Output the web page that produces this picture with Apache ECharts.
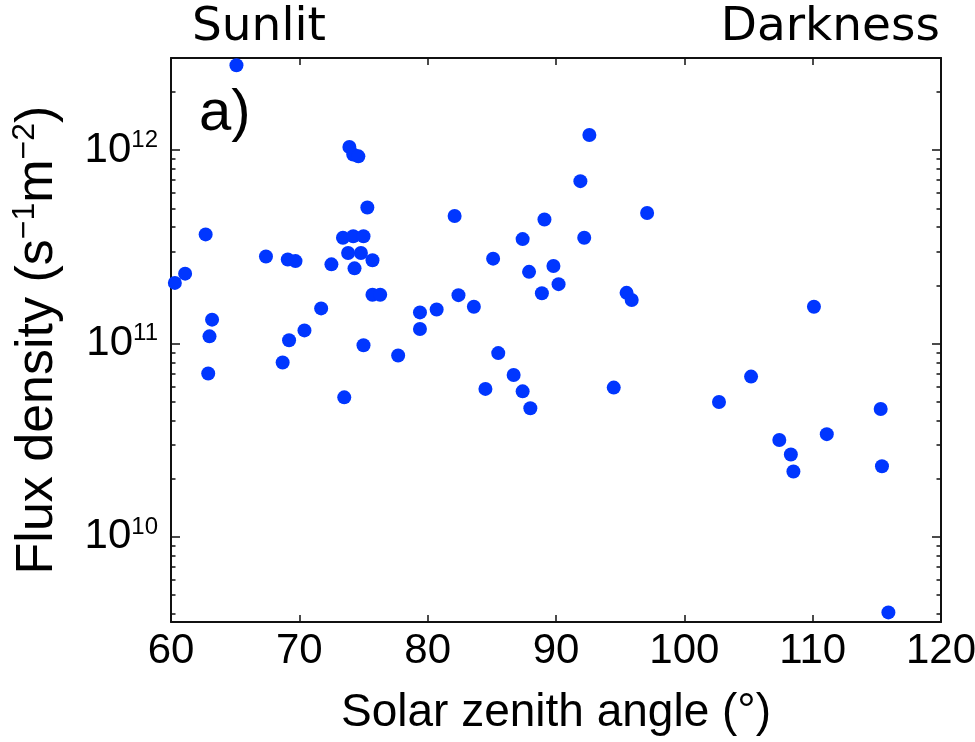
<!DOCTYPE html>
<html>
<head>
<meta charset="utf-8">
<title>Flux density vs solar zenith angle</title>
<script src="https://cdn.jsdelivr.net/npm/echarts@6/dist/echarts.min.js"></script>
<style>
  html, body { margin: 0; padding: 0; background: #fff; }
  #chart { width: 975px; height: 742px; }
</style>
</head>
<body>
<div id="chart"></div>
<script>
// Solar zenith angle (degrees) of each observation
const szaDeg = [
  60.3, 61.1, 62.7, 63.2, 63.0, 62.9, 65.1, 67.4, 69.1, 69.7,
  73.4, 74.2, 75.0, 73.8, 74.8, 75.7, 72.5, 74.3, 75.3, 73.9,
  74.2, 74.6, 82.1, 71.7, 70.4, 69.2, 68.7, 75.7, 76.3, 75.0,
  73.5, 77.7, 79.4, 79.4, 80.7, 82.4, 83.6, 85.1, 87.9, 89.8,
  90.2, 88.9, 95.5, 95.9, 85.5, 86.7, 84.5, 87.4, 88.0, 94.5,
  92.6, 91.9, 97.1, 89.1, 92.2, 87.4, 110.1, 105.2, 102.7, 115.3,
  111.1, 107.4, 108.3, 108.5, 115.4, 115.9
];

// Flux density (s^-1 m^-2), same order as szaDeg
const fluxDensity = [
  2.06e11, 2.30e11, 3.67e11, 1.33e11, 1.09e11, 7.0e10, 2.75e12, 2.82e11, 2.72e11, 2.67e11,
  3.53e11, 3.59e11, 3.59e11, 2.94e11, 2.94e11, 2.70e11, 2.57e11, 2.45e11, 5.06e11, 1.04e12,
  9.5e11, 9.3e11, 4.57e11, 1.52e11, 1.17e11, 1.04e11, 7.98e10, 1.79e11, 1.79e11, 9.8e10,
  5.27e10, 8.67e10, 1.45e11, 1.19e11, 1.50e11, 1.78e11, 1.55e11, 2.75e11, 2.35e11, 2.52e11,
  2.03e11, 1.82e11, 1.83e11, 1.68e11, 8.93e10, 6.88e10, 5.83e10, 5.66e10, 4.63e10, 5.92e10,
  1.20e12, 6.92e11, 4.74e11, 4.38e11, 3.53e11, 3.47e11, 1.55e11, 6.75e10, 4.99e10, 4.59e10,
  3.40e10, 3.17e10, 2.67e10, 2.18e10, 2.32e10, 4.07e9
];

// Axis ranges and ticks
const xMin = 60, xMax = 120, xStep = 10;
const yMin = 3.63e9, yMax = 3.0e12;
const yMajorTicks = [1e10, 1e11, 1e12];
const yMinorTicks = [
  4e9, 5e9, 6e9, 7e9, 8e9, 9e9,
  2e10, 3e10, 4e10, 5e10, 6e10, 7e10, 8e10, 9e10,
  2e11, 3e11, 4e11, 5e11, 6e11, 7e11, 8e11, 9e11,
  2e12
];

const points = szaDeg.map((x, i) => [x, fluxDensity[i]]);

const AXIS_COLOR = '#111';
const FONT = '"Liberation Sans", Arial, Helvetica, sans-serif';

function logAxis(position, ticks, tickLen, opts) {
  return Object.assign({
    type: 'log',
    logBase: 10,
    position: position,
    min: yMin,
    max: yMax,
    axisLine: { show: false, onZero: false },
    axisTick: { show: true, inside: true, length: tickLen, customValues: ticks,
                lineStyle: { color: AXIS_COLOR, width: 1.5 } },
    axisLabel: { show: false },
    splitLine: { show: false }
  }, opts || {});
}

const chart = echarts.init(document.getElementById('chart'), null, { renderer: 'canvas' });

chart.setOption({
  animation: false,
  backgroundColor: '#fff',
  // fixed plot rectangle; labels and names may sit close to the canvas edge
  grid: { left: 171, right: 34, top: 58, bottom: 120, containLabel: false, outerBoundsMode: 'none' },
  xAxis: [
    {
      type: 'value', position: 'bottom',
      min: xMin, max: xMax, interval: xStep,
      name: 'Solar zenith angle (°)',
      nameLocation: 'middle', nameGap: 68,
      nameTextStyle: { fontFamily: FONT, fontSize: 46, color: '#000' },
      axisLine: { show: true, onZero: false, lineStyle: { color: AXIS_COLOR, width: 2 } },
      axisTick: { show: true, inside: true, length: 7, lineStyle: { color: AXIS_COLOR, width: 1.5 } },
      axisLabel: { fontFamily: FONT, fontSize: 42, color: '#000', margin: 8 },
      splitLine: { show: false }
    },
    {
      type: 'value', position: 'top',
      min: xMin, max: xMax, interval: xStep,
      axisLine: { show: true, onZero: false, lineStyle: { color: AXIS_COLOR, width: 2 } },
      axisTick: { show: true, inside: true, length: 7, lineStyle: { color: AXIS_COLOR, width: 1.5 } },
      axisLabel: { show: false },
      splitLine: { show: false }
    }
  ],
  yAxis: [
    logAxis('left', yMajorTicks, 9, {
      name: 'Flux density (s{sup|−1}m{sup|−2})',
      nameLocation: 'middle', nameGap: 104, nameRotate: 90,
      nameTextStyle: {
        fontFamily: FONT, fontSize: 52, color: '#000', lineHeight: 58,
        rich: { sup: { fontFamily: FONT, fontSize: 32, color: '#000', verticalAlign: 'top', lineHeight: 28 } }
      },
      axisLine: { show: true, onZero: false, lineStyle: { color: AXIS_COLOR, width: 2 } },
      axisLabel: {
        show: true, customValues: yMajorTicks, margin: 13,
        formatter: v => '{b|10}{s|' + Math.round(Math.log10(v)) + '}',
        rich: {
          b: { fontFamily: FONT, fontSize: 42, color: '#000', lineHeight: 44 },
          s: { fontFamily: FONT, fontSize: 24, color: '#000', lineHeight: 22, verticalAlign: 'top' }
        }
      }
    }),
    logAxis('left', yMinorTicks, 4.5),
    logAxis('right', yMajorTicks, 9, {
      axisLine: { show: true, onZero: false, lineStyle: { color: AXIS_COLOR, width: 2 } }
    }),
    logAxis('right', yMinorTicks, 4.5)
  ],
  graphic: [
    { type: 'text', x: 192, y: 28, style: { text: 'Sunlit', font: '47px "DejaVu Sans", sans-serif', fill: '#000', align: 'left', verticalAlign: 'middle' } },
    { type: 'text', x: 940, y: 28, style: { text: 'Darkness', font: '47px "DejaVu Sans", sans-serif', fill: '#000', align: 'right', verticalAlign: 'middle' } },
    { type: 'text', x: 199, y: 114, style: { text: 'a)', font: '58px "Liberation Sans", Arial, sans-serif', fill: '#000', align: 'left', verticalAlign: 'middle' } }
  ],
  series: [
    {
      type: 'scatter',
      xAxisIndex: 0,
      yAxisIndex: 0,
      data: points,
      symbol: 'circle',
      symbolSize: 14,
      itemStyle: { color: '#0036ff', opacity: 1 },
      clip: false
    }
  ]
});
</script>
</body>
</html>
